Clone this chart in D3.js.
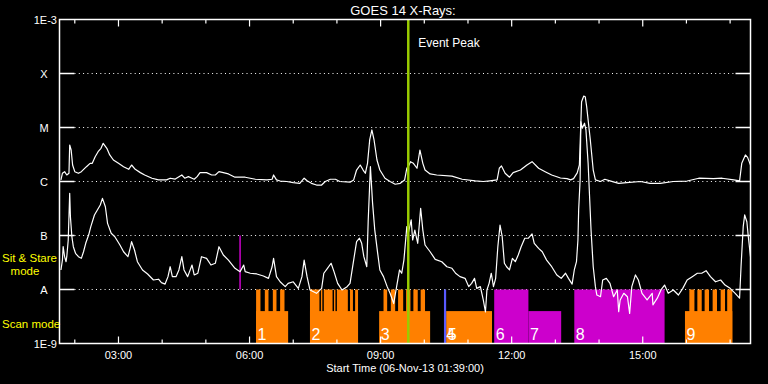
<!DOCTYPE html>
<html><head><meta charset="utf-8">
<script src="https://cdn.jsdelivr.net/npm/d3@7"></script>
<style>html,body{margin:0;background:#000;} svg{display:block;background:#000;} text{font-family:"Liberation Sans",Arial,sans-serif;}</style>
</head><body><svg id="c" width="768" height="384"></svg>
<script>
const title = "GOES 14 X-Rays:";
const xTitle = "Start Time (06-Nov-13 01:39:00)";
const day = "2013-11-06";
const timeStart = "01:39", timeEnd = "17:28";
const levelValues = [1e-9, 1e-8, 1e-7, 1e-6, 1e-5, 1e-4, 1e-3];
const levelLabels = ["1E-9", "A", "B", "C", "M", "X", "1E-3"];
const hourTicks = ["02:00","03:00","04:00","05:00","06:00","07:00","08:00","09:00","10:00","11:00","12:00","13:00","14:00","15:00","16:00","17:00"];
const labeledTicks = ["03:00","06:00","09:00","12:00","15:00"];

// GOES long channel (1-8 A), W/m^2
const longFlux = [
["01:41",1.07e-6],["01:43",1.42e-6],["01:46",1.52e-6],["01:49",1.32e-6],["01:52",1.42e-6],["01:53",4.74e-6],["01:55",3.83e-6],["01:57",2.02e-6],
["02:00",1.52e-6],["02:05",1.42e-6],["02:09",1.52e-6],["02:16",1.88e-6],["02:21",2.17e-6],["02:24",2.17e-6],["02:28",2.88e-6],["02:32",3.56e-6],
["02:36",4.12e-6],["02:39",5.1e-6],["02:44",4.12e-6],["02:48",3.1e-6],["02:53",2.5e-6],["03:00",2.17e-6],["03:07",1.88e-6],["03:14",1.68e-6],
["03:18",2.02e-6],["03:23",1.68e-6],["03:30",1.46e-6],["03:36",1.32e-6],["03:46",1.15e-6],["03:55",1.07e-6],["04:06",1.07e-6],["04:11",1.15e-6],
["04:18",1.11e-6],["04:27",1.32e-6],["04:31",1.15e-6],["04:36",1.23e-6],["04:41",1.15e-6],["04:44",1.10e-6],["04:48",1.23e-6],["04:52",1.46e-6],
["05:01",1.46e-6],["05:08",1.32e-6],["05:13",1.32e-6],["05:18",1.52e-6],["05:24",1.46e-6],["05:31",1.38e-6],["05:40",1.20e-6],["05:54",1.20e-6],
["06:01",1.15e-6],["06:08",1.10e-6],["06:24",1.07e-6],["06:31",1.10e-6],["06:33",1.32e-6],["06:37",1.07e-6],["06:42",1.02e-6],["06:51",1.0e-6],
["07:00",9.5e-7],["07:09",9.25e-7],["07:15",1.15e-6],["07:19",1.03e-6],["07:25",9.25e-7],["07:32",8.6e-7],["07:39",8.6e-7],["07:44",1.0e-6],
["07:51",1.10e-6],["07:58",1.10e-6],["08:04",1.0e-6],["08:18",9.7e-7],["08:23",1.07e-6],["08:27",1.63e-6],["08:32",2.02e-6],["08:36",1.63e-6],
["08:39",1.42e-6],["08:42",2.17e-6],["08:45",5.87e-6],["08:48",9.0e-6],["08:51",5.87e-6],["08:55",2.5e-6],["08:59",1.63e-6],["09:06",1.15e-6],
["09:13",1.0e-6],["09:20",8.9e-7],["09:27",9.25e-7],["09:33",1.07e-6],["09:36",1.76e-6],["09:38",1.88e-6],["09:41",2.33e-6],["09:45",2.17e-6],
["09:50",1.76e-6],["09:54",3.83e-6],["09:58",2.17e-6],["10:01",1.63e-6],["10:08",1.38e-6],["10:17",1.32e-6],["10:38",1.26e-6],["10:52",1.10e-6],
["11:10",1.03e-6],["11:21",1.0e-6],["11:30",1.03e-6],["11:40",1.07e-6],["11:43",1.76e-6],["11:46",1.94e-6],["11:51",1.42e-6],["11:57",1.20e-6],
["12:02",1.46e-6],["12:12",1.63e-6],["12:21",2.02e-6],["12:28",2.33e-6],["12:37",1.76e-6],["12:46",1.52e-6],["12:55",1.32e-6],["13:07",1.16e-6],
["13:16",1.13e-6],["13:21",1.07e-6],["13:25",1.13e-6],["13:30",1.44e-6],["13:33",2.02e-6],["13:35",1.2e-5],["13:36",3.0e-5],["13:39",3.83e-5],
["13:41",3.72e-5],["13:43",2.43e-5],["13:48",5.87e-6],["13:52",1.63e-6],["13:55",1.07e-6],["14:02",1.0e-6],["14:08",1.10e-6],["14:15",1.03e-6],
["14:27",9.25e-7],["14:38",9.5e-7],["14:57",1.0e-6],["15:10",9.25e-7],["15:24",9.25e-7],["15:42",1.0e-6],["16:01",1.02e-6],["16:17",1.15e-6],
["16:37",1.13e-6],["16:49",1.15e-6],["17:05",1.07e-6],["17:13",1.03e-6],["17:16",2.17e-6],["17:21",3.1e-6],["17:24",2.8e-6],["17:28",2.02e-6]
];

// GOES short channel (0.5-4 A), W/m^2
const shortFlux = [
["01:41",2.3e-8],["01:43",3.5e-8],["01:44",6.2e-8],["01:46",4.05e-8],["01:48",3.27e-8],["01:49",4.05e-8],["01:51",8.25e-8],["01:53",6.04e-7],
["01:54",2.23e-7],["01:56",9.5e-8],["01:58",6.2e-8],["02:01",4.68e-8],["02:05",4.05e-8],["02:09",3.78e-8],["02:12",5.0e-8],["02:15",7.17e-8],
["02:19",1.02e-7],["02:22",1.46e-7],["02:27",2.4e-7],["02:31",2.97e-7],["02:35",3.67e-7],["02:38",4.88e-7],["02:42",3.41e-7],["02:45",1.68e-7],
["02:50",1.1e-7],["02:55",9.5e-8],["03:02",6.67e-8],["03:07",5.0e-8],["03:13",4.05e-8],["03:16",5.79e-8],["03:18",7.68e-8],["03:22",5.39e-8],
["03:26",3.27e-8],["03:33",2.3e-8],["03:40",1.94e-8],["03:48",1.5e-8],["03:55",1.55e-8],["03:59",1.34e-8],["04:04",1.26e-8],["04:08",1.73e-8],
["04:11",2.64e-8],["04:14",1.73e-8],["04:19",1.73e-8],["04:23",2.3e-8],["04:27",4.05e-8],["04:30",2.3e-8],["04:35",1.73e-8],["04:41",2.84e-8],
["04:44",1.86e-8],["04:49",2.0e-8],["04:54",4.05e-8],["05:01",3.78e-8],["05:07",2.84e-8],["05:13",3.06e-8],["05:18",6.2e-8],["05:24",4.35e-8],
["05:31",3.5e-8],["05:40",2.47e-8],["05:47",2.14e-8],["05:52",2.84e-8],["05:54",2.14e-8],["06:01",2.0e-8],["06:10",1.94e-8],["06:19",1.78e-8],
["06:26",1.61e-8],["06:31",2.64e-8],["06:33",3.78e-8],["06:37",1.73e-8],["06:42",1.39e-8],["06:49",1.13e-8],["06:53",1.3e-8],["07:00",1.39e-8],
["07:07",1.05e-8],["07:12",1.73e-8],["07:15",3.5e-8],["07:19",1.73e-8],["07:23",9.8e-9],["07:32",8.5e-9],["07:39",1.05e-8],["07:42",2.0e-8],
["07:47",2.47e-8],["07:52",3.06e-8],["07:56",2.14e-8],["08:01",1.3e-8],["08:07",9.8e-9],["08:14",1.13e-8],["08:18",1.3e-8],["08:23",3.5e-8],
["08:27",7.68e-8],["08:31",8.9e-8],["08:34",7.17e-8],["08:37",4.05e-8],["08:41",2.64e-8],["08:43",1.94e-7],["08:46",1.88e-6],["08:49",3.94e-7],
["08:52",1.26e-7],["08:56",4.68e-8],["08:59",2.3e-8],["09:04",1.73e-8],["09:09",1.13e-8],["09:13",8.5e-9],["09:18",5.5e-9],["09:22",1.13e-8],
["09:26",2.3e-8],["09:29",2.0e-8],["09:32",3.5e-8],["09:36",1.46e-7],["09:38",1.1e-7],["09:42",1.94e-7],["09:44",8.25e-8],["09:47",1.26e-7],
["09:51",7.17e-8],["09:55",3.19e-7],["09:58",1.26e-7],["10:01",6.67e-8],["10:08",5.0e-8],["10:15",3.62e-8],["10:24",3.27e-8],["10:31",2.64e-8],
["10:38",2.47e-8],["10:43",2.0e-8],["10:49",1.73e-8],["10:56",1.61e-8],["11:01",1.13e-8],["11:05",1.3e-8],["11:09",1.61e-8],["11:12",1.05e-8],
["11:17",1.13e-8],["11:21",6.4e-9],["11:24",3.83e-9],["11:26",9.8e-9],["11:29",1.3e-8],["11:32",2.0e-8],["11:35",1.13e-8],["11:38",1.61e-8],
["11:41",6.2e-8],["11:44",1.56e-7],["11:47",9.5e-8],["11:50",3.06e-8],["11:53",2.64e-8],["11:57",2.3e-8],["12:01",3.78e-8],["12:05",3.27e-8],
["12:09",4.35e-8],["12:13",6.2e-8],["12:18",8.9e-8],["12:23",8.9e-8],["12:28",1.07e-7],["12:31",7.17e-8],["12:37",5.79e-8],["12:42",5.0e-8],
["12:48",3.5e-8],["12:55",2.64e-8],["13:02",1.86e-8],["13:08",1.61e-8],["13:14",2.0e-8],["13:18",1.61e-8],["13:23",1.26e-8],["13:26",2.3e-8],
["13:29",3.27e-8],["13:31",8.25e-8],["13:32",2.97e-7],["13:34",1.07e-6],["13:35",1.28e-5],["13:37",9.7e-6],["13:40",1.2e-5],["13:42",9.0e-6],
["13:45",2.17e-6],["13:47",5.23e-7],["13:49",1.26e-7],["13:52",2.64e-8],["13:55",1.13e-8],["13:57",7.9e-9],["14:02",7.35e-9],["14:05",1.5e-8],
["14:10",1.61e-8],["14:15",1.3e-8],["14:20",7.35e-9],["14:25",9.8e-9],["14:27",3.88e-9],["14:29",6.4e-9],["14:34",8.5e-9],["14:39",7.35e-9],
["14:42",3.62e-9],["14:45",1.13e-8],["14:50",1.86e-8],["14:54",1.5e-8],["14:59",8.5e-9],["15:06",6.4e-9],["15:13",8.5e-9],["15:14",5.2e-9],
["15:20",6.9e-9],["15:25",9.8e-9],["15:30",1.21e-8],["15:35",8.5e-9],["15:42",9.8e-9],["15:49",7.9e-9],["15:55",1.05e-8],["16:01",1.5e-8],
["16:08",1.73e-8],["16:15",2.0e-8],["16:21",2.0e-8],["16:27",2.23e-8],["16:33",1.73e-8],["16:40",1.39e-8],["16:47",1.5e-8],["16:53",1.21e-8],
["17:00",1.05e-8],["17:07",8.5e-9],["17:13",6.9e-9],["17:15",2.64e-8],["17:18",1.46e-7],["17:20",2.4e-7],["17:23",1.8e-7],["17:25",9.5e-8],["17:28",4.05e-8]
];

// observing timeline: [start, end, mode, level]
const obsSegments = [
["06:09","06:53","scan","half"],["07:23","08:29","scan","half"],["08:58","10:08","scan","half"],["10:30","11:33","scan","half"],["15:58","17:03","scan","half"],
["06:09","06:15","scan","full"],["06:21","06:26","scan","full"],["06:32","06:37","scan","full"],["06:42","06:48","scan","full"],
["07:23","07:36","scan","full"],["07:38","07:40","scan","full"],["07:42","07:54","scan","full"],["07:56","07:58","scan","full"],["08:00","08:15","scan","full"],["08:18","08:22","scan","full"],["08:25","08:29","scan","full"],
["09:04","09:09","scan","full"],["09:14","09:20","scan","full"],["09:24","09:31","scan","full"],["09:35","09:41","scan","full"],["09:45","09:51","scan","full"],["09:55","10:01","scan","full"],
["16:04","16:11","scan","full"],["16:15","16:21","scan","full"],["16:25","16:31","scan","full"],["16:36","16:42","scan","full"],["16:47","16:53","scan","full"],["16:56","17:03","scan","full"],
["11:36","12:23","stare","full"],["12:23","13:08","stare","half"],["13:26","15:30","stare","full"],
["10:27","10:30","event","full"]
];
const obsLabels = [["1","06:09"],["2","07:23"],["3","08:58"],["4","10:28"],["5","10:30"],["6","11:36"],["7","12:23"],["8","13:26"],["9","15:58"]];
const stareMarker = ["05:47", 1e-7, 1e-8];
const eventPeak = "09:38";
const eventLabel = "Event Peak";
const modeLabels = [["Sit & Stare", "mode"], ["Scan mode"]];

const svg = d3.select("#c");
const W = 768, H = 384;
svg.append("rect").attr("width", W).attr("height", H).attr("fill", "#000");
const parse = d3.utcParse("%Y-%m-%d %H:%M");
const T = s => parse(day + " " + s);
const L = 59.5, R = 750.5, TOP = 19.5, BOT = 343.5;
const x = d3.scaleUtc().domain([T(timeStart), T(timeEnd)]).range([L, R]);
const y = d3.scaleLog().domain([1e-9, 1e-3]).range([BOT, TOP]);
const lane = d3.scaleLinear().domain([0, 1]).range([BOT, y(1e-8)]);
const laneLevel = {full: 1, half: 0.6};
const modeColor = {scan: "#ff8000", stare: "#cc00cc", event: "#5a5aff"};

// gridlines
const inner = levelValues.slice(1, -1);
svg.append("g").selectAll("line.grid").data(inner).join("line")
  .attr("x1", L + 15).attr("x2", R - 15).attr("y1", d => y(d)).attr("y2", d => y(d))
  .attr("stroke", "#fff").attr("stroke-width", 1).attr("stroke-dasharray", "1,3.3");
svg.append("g").selectAll("line").data(inner).join("line")
  .attr("x1", L).attr("x2", L + 15).attr("y1", d => y(d)).attr("y2", d => y(d)).attr("stroke", "#fff").attr("stroke-width", 1.5);
svg.append("g").selectAll("line").data(inner).join("line")
  .attr("x1", R - 15).attr("x2", R).attr("y1", d => y(d)).attr("y2", d => y(d)).attr("stroke", "#fff").attr("stroke-width", 1.5);

// observing timeline blocks
svg.append("g").selectAll("rect").data(obsSegments).join("rect")
  .attr("x", d => x(T(d[0]))).attr("width", d => x(T(d[1])) - x(T(d[0])))
  .attr("y", d => lane(laneLevel[d[3]])).attr("height", d => BOT - lane(laneLevel[d[3]]))
  .attr("fill", d => modeColor[d[2]]);

// stare marker
svg.append("line").attr("x1", x(T(stareMarker[0]))).attr("x2", x(T(stareMarker[0])))
  .attr("y1", y(stareMarker[1])).attr("y2", y(stareMarker[2])).attr("stroke", "#cc00cc").attr("stroke-width", 1.5);

// curves
svg.append("clipPath").attr("id", "pc").append("rect").attr("x", L).attr("y", TOP).attr("width", R - L).attr("height", BOT - TOP);
const line = d3.line().x(d => x(T(d[0]))).y(d => y(d[1]));
[longFlux, shortFlux].forEach(s => {
  svg.append("path").attr("d", line(s)).attr("fill", "none").attr("stroke", "#fff").attr("stroke-width", 1.2)
    .attr("stroke-linejoin", "round").attr("clip-path", "url(#pc)");
});

// block labels
svg.append("g").selectAll("text").data(obsLabels).join("text")
  .attr("x", d => x(T(d[1])) + 1.5).attr("y", 339.5).attr("fill", "#fff").attr("font-size", 16).text(d => d[0]);

// event peak
const ex = x(T(eventPeak));
svg.append("line").attr("x1", ex).attr("x2", ex).attr("y1", TOP).attr("y2", BOT).attr("stroke", "#99cc00").attr("stroke-width", 2.5);
svg.append("text").attr("x", ex + 10).attr("y", 46.5).attr("fill", "#fff").attr("font-size", 12).text(eventLabel);

// frame
svg.append("rect").attr("x", L).attr("y", TOP).attr("width", R - L).attr("height", BOT - TOP)
  .attr("fill", "none").attr("stroke", "#fff").attr("stroke-width", 1.5);

// time ticks
const tickData = hourTicks.map(h => ({t: T(h), major: labeledTicks.includes(h)}));
const tg = svg.append("g");
tg.selectAll("line.b").data(tickData).join("line").attr("x1", d => x(d.t)).attr("x2", d => x(d.t))
  .attr("y1", BOT).attr("y2", d => BOT - (d.major ? 7 : 4)).attr("stroke", "#fff").attr("stroke-width", 1.2);
tg.selectAll("line.t").data(tickData).join("line").attr("x1", d => x(d.t)).attr("x2", d => x(d.t))
  .attr("y1", TOP).attr("y2", d => TOP + (d.major ? 7 : 4)).attr("stroke", "#fff").attr("stroke-width", 1.2);
svg.append("g").selectAll("text").data(labeledTicks).join("text")
  .attr("x", d => x(T(d))).attr("y", 359).attr("text-anchor", "middle").attr("fill", "#fff").attr("font-size", 11).text(d => d);

// y labels
svg.append("g").selectAll("text").data(levelValues).join("text")
  .attr("x", (d, i) => (i === 0 || i === levelValues.length - 1) ? 57 : 44)
  .attr("text-anchor", (d, i) => (i === 0 || i === levelValues.length - 1) ? "end" : "middle")
  .attr("y", d => y(d) + 4).attr("fill", "#fff").attr("font-size", 11)
  .text((d, i) => levelLabels[i]);

// titles
svg.append("text").attr("x", 403).attr("y", 15).attr("text-anchor", "middle").attr("fill", "#fff").attr("font-size", 13).text(title);
svg.append("text").attr("x", 405).attr("y", 372).attr("text-anchor", "middle").attr("fill", "#fff").attr("font-size", 11).text(xTitle);

// mode labels
svg.append("text").attr("x", 2).attr("y", 262).attr("fill", "#ffff00").attr("font-size", 11.5).text(modeLabels[0][0]);
svg.append("text").attr("x", 25).attr("y", 274.5).attr("text-anchor", "middle").attr("fill", "#ffff00").attr("font-size", 11.5).text(modeLabels[0][1]);
svg.append("text").attr("x", 2).attr("y", 327.5).attr("fill", "#ffff00").attr("font-size", 11.5).text(modeLabels[1][0]);
</script></body></html>
